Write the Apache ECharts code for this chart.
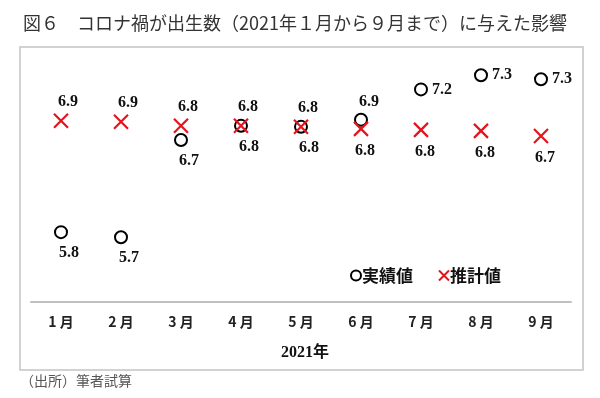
<!DOCTYPE html>
<html>
<head>
<meta charset="utf-8">
<script src="https://cdn.jsdelivr.net/npm/echarts@6/dist/echarts.min.js"></script>
<style>
html,body{margin:0;padding:0;background:#fff;}
#chart{width:600px;height:398px;}
</style>
</head>
<body>
<div id="chart"></div>
<script>
// 2021年1月～9月 出生数（万人）
var months = ['1月', '2月', '3月', '4月', '5月', '6月', '7月', '8月', '9月'];
var actual = [5.79, 5.74, 6.70, 6.84, 6.83, 6.90, 7.20, 7.34, 7.30];   // 実績値
var estimate = [6.89, 6.88, 6.84, 6.84, 6.83, 6.81, 6.80, 6.79, 6.74]; // 推計値

var serifFont = '"Liberation Serif", "Noto Sans CJK JP", serif';
var gothicFont = '"Noto Sans CJK JP", sans-serif';
var redColor = '#e3141c';
var xPath = 'path://M0,0L10,10M10,0L0,10';

function fmt(p){ return p.value[1].toFixed(1); }

// 実績値のラベル位置（点の重なりを避ける）
var actualData = actual.map(function(v, i){
	var lab;
	if (i <= 4) {
		lab = {position:'bottom', distance:6, offset:[8,0]};
	} else if (i == 5) {
		lab = {position:'top', distance:3, offset:[8,0]};
	} else {
		lab = {position:'right', distance:4, offset:[0,0]};
	}
	return {value:[i, v], label:lab};
});
var estData = estimate.map(function(v, i){
	var lab;
	if (i <= 4) {
		lab = {position:'top', distance:3, offset:[7,0]};
	} else {
		lab = {position:'bottom', distance:6, offset:[4,0]};
	}
	return {value:[i, v], label:lab};
});

var labelStyle = {
	show:true,
	formatter:fmt,
	fontFamily:serifFont,
	fontWeight:'bold',
	fontSize:16,
	color:'#111'
};

var myChart = echarts.init(document.getElementById('chart'));
var option = {
	backgroundColor:'#fff',
	animation:false,
	title:{
		text:'図６　コロナ禍が出生数（2021年１月から９月まで）に与えた影響',
		left:18,
		top:9,
		textStyle:{fontFamily:gothicFont, fontWeight:'normal', fontSize:18, color:'#333'}
	},
	graphic:[
		{type:'rect', shape:{x:20, y:47, width:563, height:323},
		 style:{fill:'none', stroke:'#c4c4c4', lineWidth:1.5}, silent:true},
		{type:'text', left:20, top:374,
		 style:{text:'（出所）筆者試算', font:'14px "Noto Sans CJK JP"', fill:'#555'}}
	],
	legend:{
		left:345,
		top:262,
		itemGap:25,
		itemWidth:10,
		itemHeight:10,
		textStyle:{fontFamily:gothicFont, fontWeight:'bold', fontSize:17, color:'#111', padding:[0,0,0,-4]},
		data:[
			{name:'実績値', icon:'circle', itemStyle:{color:'#fff', borderColor:'#000', borderWidth:2}},
			{name:'推計値', icon:xPath, itemStyle:{color:'transparent', borderColor:redColor, borderWidth:2}}
		]
	},
	grid:{left:31, right:29, top:59, bottom:96},
	xAxis:{
		type:'category',
		data:months,
		boundaryGap:true,
		name:'2021年',
		nameLocation:'middle',
		nameGap:43,
		nameTextStyle:{fontFamily:serifFont, fontWeight:'bold', fontSize:16, color:'#111', padding:[0,0,0,8]},
		axisLine:{lineStyle:{color:'#c0c0c0', width:2}},
		axisTick:{show:false},
		axisLabel:{
			margin:13,
			fontFamily:gothicFont,
			fontWeight:'bold',
			fontSize:14,
			color:'#222',
			formatter:function(val){ return val.replace('月', ' 月'); }
		}
	},
	yAxis:{
		type:'value',
		min:5.1,
		max:7.5,
		show:false,
		splitLine:{show:false}
	},
	series:[
		{
			name:'実績値',
			type:'scatter',
			symbol:'circle',
			symbolSize:12,
			itemStyle:{color:'#fff', borderColor:'#000', borderWidth:2, opacity:1},
			label:labelStyle,
			data:actualData,
			z:2
		},
		{
			name:'推計値',
			type:'scatter',
			symbol:xPath,
			symbolSize:14,
			itemStyle:{color:'transparent', borderColor:redColor, borderWidth:2.2, opacity:1},
			label:labelStyle,
			data:estData,
			z:3
		}
	]
};
myChart.setOption(option);
</script>
</body>
</html>
